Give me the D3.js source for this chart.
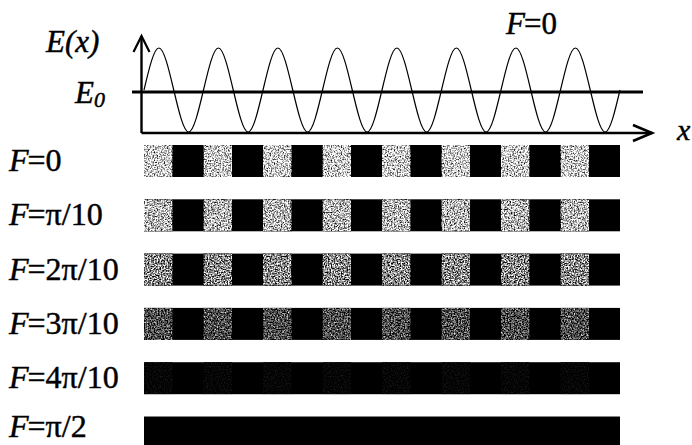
<!DOCTYPE html>
<html><head><meta charset="utf-8">
<script src="https://cdn.jsdelivr.net/npm/d3@7/dist/d3.min.js"></script>
<style>
html,body{margin:0;padding:0;background:#fff;}
svg{display:block;}
text{font-family:"Liberation Serif","Times New Roman",serif;fill:#000;stroke:#000;stroke-width:0.45px;}
</style></head>
<body>
<svg id="chart" width="692" height="445"></svg>
<script>
// ---- data ----
// wave key points (x in periods, E in units of E0): crossings, peaks, troughs
const waveX = [0,0.25,0.5,0.75,1,1.25,1.5,1.75,2,2.25,2.5,2.75,3,3.25,3.5,3.75,4,4.25,4.5,4.75,5,5.25,5.5,5.75,6,6.25,6.5,6.75,7,7.25,7.5,7.75,8];
const waveE = [1,2,1,0,1,2,1,0,1,2,1,0,1,2,1,0,1,2,1,0,1,2,1,0,1,2,1,0,1,2,1,0,1];
const E0 = 1;
const rowLabels = ["0", "\u03c0/10", "2\u03c0/10", "3\u03c0/10", "4\u03c0/10", "\u03c0/2"];
// brightness of the "light" half of each stripe period (0 = black, 1 = white)
const lightLevels = [0.80, 0.72, 0.54, 0.30, 0.02, 0.0];
// stripe cells within one period: [start, end, kind]
const cellStarts = [0, 0.48];
const cellEnds = [0.48, 1.0];
const cellKinds = ["light", "dark"];
const periods = d3.range(8);

// ---- layout ----
const svg = d3.select("#chart");
const defs = svg.append("defs");
// speckle texture filters (scan-like dithering of grey areas), one per row strength
const speckleAmp = lightLevels.map(l => l <= 0.01 ? 0 : (l < 0.1 ? 0.25 : (l < 0.4 ? 1.8 : 2.4)));
speckleAmp.forEach((amp, i) => {
  const flt = defs.append("filter").attr("id", "speckle" + i).attr("x", 0).attr("y", 0).attr("width", 1).attr("height", 1)
    .attr("color-interpolation-filters", "sRGB");
  flt.append("feTurbulence").attr("type", "fractalNoise").attr("baseFrequency", 0.7).attr("numOctaves", 2).attr("seed", 3 + i).attr("result", "n");
  flt.append("feColorMatrix").attr("in", "n").attr("type", "matrix")
    .attr("values", "1 0 0 0 0  1 0 0 0 0  1 0 0 0 0  0 0 0 0 1").attr("result", "g");
  flt.append("feComposite").attr("in", "SourceGraphic").attr("in2", "g").attr("operator", "arithmetic")
    .attr("k1", 0).attr("k2", 1).attr("k3", amp).attr("k4", -amp / 2).attr("result", "m");
  flt.append("feComposite").attr("in", "m").attr("in2", "SourceAlpha").attr("operator", "in");
});

const x = d3.scaleLinear().domain([0, 8]).range([144, 620]);
const y = d3.scaleLinear().domain([0, 2]).range([132, 48]);
const rowY = d3.scaleBand().domain(d3.range(rowLabels.length)).range([145, 448.5]).paddingInner(0.411).paddingOuter(0);

// axes
const axisX0 = 141.5, axisY0 = 133;
svg.append("line").attr("x1", axisX0).attr("y1", axisY0).attr("x2", axisX0).attr("y2", 36)
  .attr("stroke", "#000").attr("stroke-width", 2.4);
svg.append("path").attr("d", `M${axisX0-8},${52} L${axisX0},${36} L${axisX0+8},${52}`)
  .attr("fill", "none").attr("stroke", "#000").attr("stroke-width", 2.2);
svg.append("line").attr("x1", axisX0).attr("y1", axisY0).attr("x2", 652).attr("y2", axisY0)
  .attr("stroke", "#000").attr("stroke-width", 2.6);
svg.append("path").attr("d", `M633,125 L652,${axisY0} L633,141`)
  .attr("fill", "none").attr("stroke", "#000").attr("stroke-width", 2.6);

// E0 line
svg.append("line").attr("x1", 132).attr("x2", 643).attr("y1", y(E0) + 2).attr("y2", y(E0) + 2)
  .attr("stroke", "#000").attr("stroke-width", 3);

// wave
const line = d3.line().x(d => x(d[0])).y(d => y(d[1])).curve(d3.curveNatural);
svg.append("path").datum(waveX.map((v, i) => [v, waveE[i]]))
  .attr("d", line).attr("fill", "none").attr("stroke", "#000").attr("stroke-width", 1.2);

// labels top
svg.append("text").attr("x", 46).attr("y", 52).attr("font-size", 31).attr("font-style", "italic").text("E(x)");
const e0 = svg.append("text").attr("x", 75).attr("y", 103).attr("font-size", 31).attr("font-style", "italic");
e0.append("tspan").text("E");
e0.append("tspan").attr("font-size", 22).attr("dy", 4).text("0");
const f0 = svg.append("text").attr("x", 506).attr("y", 34).attr("font-size", 31);
f0.append("tspan").attr("font-style", "italic").text("F");
f0.append("tspan").attr("dx", -1).text("=0");
svg.append("text").attr("x", 677).attr("y", 140).attr("font-size", 30).attr("font-style", "italic").text("x");

// stripes
const rows = svg.selectAll("g.row").data(rowLabels).join("g").attr("class", "row")
  .attr("transform", (d, i) => `translate(0,${rowY(i)})`);
rows.each(function(lbl, i) {
  const g = d3.select(this);
  const cells = [];
  periods.forEach(p => cellKinds.forEach((k, j) => cells.push({s: p + cellStarts[j], e: p + cellEnds[j], k})));
  const lv = Math.round(lightLevels[i] * 255);
  // dark base of the whole row, light halves drawn on top
  g.append("rect").attr("x", x(0)).attr("width", x(8) - x(0)).attr("y", 0).attr("height", rowY.bandwidth()).attr("fill", "#000");
  g.selectAll("rect.cell").data(cells.filter(d => d.k === "light" && lv > 0)).join("rect").attr("class", "cell")
    .attr("x", d => x(d.s)).attr("width", d => x(d.e) - x(d.s))
    .attr("y", 0).attr("height", rowY.bandwidth())
    .attr("fill", d3.rgb(lv, lv, lv))
    .attr("filter", speckleAmp[i] === 0 ? null : `url(#speckle${i})`);
  const base = Math.min(rowY.bandwidth() / 2 + 10, 437 - rowY(i));
  const t = g.append("text").attr("x", 9).attr("y", base).attr("font-size", 32);
  t.append("tspan").attr("font-style", "italic").text("F");
  t.append("tspan").attr("dx", -1).text("=" + lbl);
});
</script>
</body></html>
